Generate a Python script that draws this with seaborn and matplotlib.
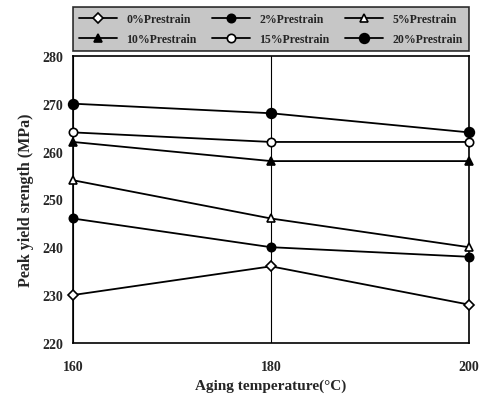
import matplotlib
matplotlib.use("Agg")
import matplotlib.pyplot as plt
import seaborn as sns
import pandas as pd

# Aging temperatures (°C)
temperature = [160, 180, 200]

# Peak yield strength (MPa) for each prestrain level
strain_0 = [230, 236, 228]
strain_2 = [246, 240, 238]
strain_5 = [254, 246, 240]
strain_10 = [262, 258, 258]
strain_15 = [264, 262, 262]
strain_20 = [270, 268, 264]

labels = ["0%Prestrain", "2%Prestrain", "5%Prestrain",
          "10%Prestrain", "15%Prestrain", "20%Prestrain"]
series = [strain_0, strain_2, strain_5, strain_10, strain_15, strain_20]

rows = []
for lab, vals in zip(labels, series):
    for t, v in zip(temperature, vals):
        rows.append({"temp": t, "strength": v, "group": lab})
df = pd.DataFrame(rows)

sns.set_theme(style="white")
plt.rcParams["font.family"] = ["Liberation Serif", "DejaVu Serif"]
plt.rcParams["font.weight"] = "bold"

fig = plt.figure(figsize=(4.8, 4.06), dpi=100)
ax = fig.add_axes([0.152, 0.153, 0.825, 0.707])

styles = {
    "0%Prestrain": dict(marker="D", mfc="white", ms=5),
    "2%Prestrain": dict(marker="o", mfc="black", ms=6),
    "5%Prestrain": dict(marker="^", mfc="white", ms=6),
    "10%Prestrain": dict(marker="^", mfc="black", ms=6),
    "15%Prestrain": dict(marker="o", mfc="white", ms=6),
    "20%Prestrain": dict(marker="o", mfc="black", ms=7),
}

for lab in labels:
    sub = df[df["group"] == lab]
    st = styles[lab]
    sns.lineplot(data=sub, x="temp", y="strength", ax=ax, color="black",
                 linewidth=1.3, marker=st["marker"], markersize=st["ms"],
                 markerfacecolor=st["mfc"], markeredgecolor="black",
                 markeredgewidth=1.2, label=lab, clip_on=False, zorder=5)

ax.set_xlim(160, 200)
ax.set_ylim(220, 280)
ax.set_xticks([160, 180, 200])
ax.set_yticks([220, 230, 240, 250, 260, 270, 280])
ax.grid(axis="x", color="black", linewidth=0.8)
ax.grid(axis="y", visible=False)
for s in ax.spines.values():
    s.set_color("black")
    s.set_linewidth(1.2)
ax.tick_params(axis="both", which="both", direction="out", length=4,
               width=1, color="black", labelsize=10, pad=3)
ax.tick_params(axis="x", pad=8)
for t in ax.get_xticklabels() + ax.get_yticklabels():
    t.set_fontweight("bold")

ax.set_xlabel("Aging temperature(°C)", fontsize=11, fontweight="bold", labelpad=4)
ax.set_ylabel("Peak yield srength (MPa)", fontsize=11.5, fontweight="bold", labelpad=6)

handles, leg_labels = ax.get_legend_handles_labels()
if ax.legend_:
    ax.legend_.remove()
# row-major ordering for a 3-column, 2-row legend
order = [0, 3, 1, 4, 2, 5]
leg = fig.legend([handles[i] for i in order], [leg_labels[i] for i in order],
                 ncol=3, mode="expand",
                 bbox_to_anchor=(0.152, 0.872, 0.825, 0.12), loc="lower left",
                 frameon=True, fancybox=False, handlelength=3.2,
                 borderaxespad=0, borderpad=0.5, labelspacing=0.7,
                 columnspacing=1.0, prop={"weight": "bold", "size": 8.5})
frame = leg.get_frame()
frame.set_facecolor("#b8b8b8")
frame.set_edgecolor("black")
frame.set_linewidth(1.2)

fig.savefig("out.png", dpi=100)
